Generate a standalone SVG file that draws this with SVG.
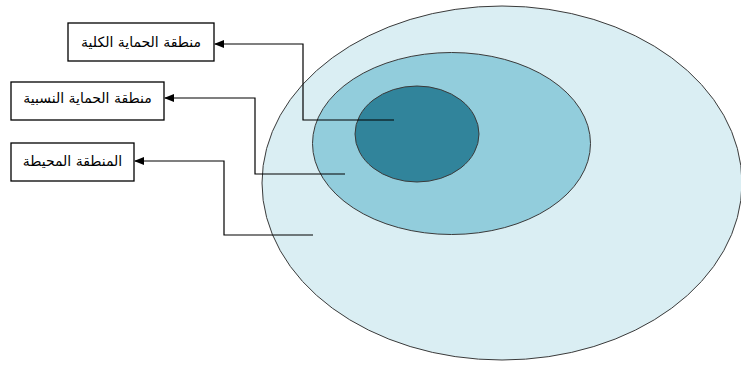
<svg xmlns="http://www.w3.org/2000/svg" width="741" height="365" viewBox="0 0 741 365">
<style>
.zone{stroke:#3a3a3a;stroke-width:1}
.box{fill:#fff;stroke:#000;stroke-width:1.3}
.lbl{font-family:"DejaVu Sans","Noto Sans",sans-serif;font-size:14px;fill:#000;text-anchor:middle}
.con{fill:none;stroke:#000;stroke-width:1.2}
</style>
<defs>
<marker id="arr" markerWidth="10" markerHeight="8" refX="9" refY="4" orient="auto" markerUnits="userSpaceOnUse">
<path d="M0,0 L10,4 L0,8 Z" fill="#000"/>
</marker>
</defs>
<rect width="741" height="365" fill="#fff"/>
<g id="outer"><ellipse class="zone" cx="502" cy="183" rx="240" ry="177" fill="#DAEEF3"/></g>
<g id="middle"><ellipse class="zone" cx="451.5" cy="143.5" rx="139" ry="91" fill="#92CDDC"/></g>
<g id="inner"><ellipse class="zone" cx="417" cy="134" rx="62" ry="48" fill="#31849B"/></g>
<g id="connectors">
<polyline class="con" points="394,120 303,120 303,44 215,44" marker-end="url(#arr)"/>
<polyline class="con" points="345,174 255,174 255,98 165,98" marker-end="url(#arr)"/>
<polyline class="con" points="313,235 224,235 224,161 135,161" marker-end="url(#arr)"/>
</g>
<g id="box-total"><rect class="box" x="68" y="23" width="146" height="38"/><text class="lbl" x="141" y="47" direction="rtl">منطقة الحماية الكلية</text></g>
<g id="box-relative"><rect class="box" x="11" y="82" width="153" height="38"/><text class="lbl" x="87.5" y="103" direction="rtl">منطقة الحماية النسبية</text></g>
<g id="box-surrounding"><rect class="box" x="11" y="143" width="123" height="38"/><text class="lbl" x="72.5" y="166" direction="rtl">المنطقة المحيطة</text></g>
</svg>
